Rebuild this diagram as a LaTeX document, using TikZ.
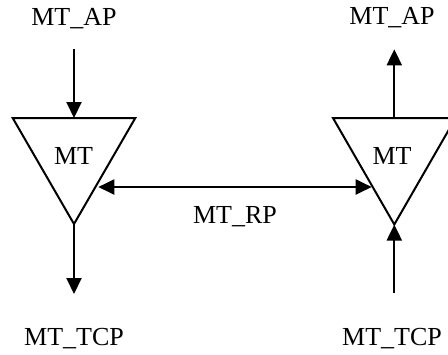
\documentclass[tikz,border=0pt]{standalone}
\usepackage{fontspec}
\setmainfont{Liberation Serif}
\usetikzlibrary{arrows.meta}
\begin{document}
\begin{tikzpicture}[x=0.5pt,y=-0.5pt,
  lbl/.style={anchor=base,inner sep=0pt,font=\fontsize{13}{15}\selectfont},
  tri/.style={line width=1pt,line join=miter},
  conn/.style={line width=1pt,-{Triangle[length=8pt,width=7.5pt]}},
  dconn/.style={line width=1pt,{Triangle[length=8pt,width=7.5pt]}-{Triangle[length=8pt,width=7.5pt]}}]
\useasboundingbox (0,0) rectangle (448,354);
\begin{scope}
\clip (0,0) rectangle (448,354);
% left triangle
\coordinate (LTL) at (12.7,118);
\coordinate (LTR) at (135.3,118);
\coordinate (LA) at (74,224);
\coordinate (LT) at (74,118);
\draw[tri] (LTL) -- (LTR) -- (LA) -- cycle;
% right triangle
\coordinate (RTL) at (333,118);
\coordinate (RTR) at (455.6,118);
\coordinate (RA) at (394.3,224.5);
\coordinate (RT) at (394.3,118);
\draw[tri] (RTL) -- (RTR) -- (RA) -- cycle;
\end{scope}
% labels
\node[lbl] (lap) at (74,25) {MT\_AP};
\node[lbl] (rap) at (392,24) {MT\_AP};
\node[lbl] (lmt) at (73.5,164) {MT};
\node[lbl] (rmt) at (392,164) {MT};
\node[lbl] (rp) at (235,223.3) {MT\_RP};
\node[lbl] (ltcp) at (74,345.3) {MT\_TCP};
\node[lbl] (rtcp) at (392,345.3) {MT\_TCP};
% free ends
\coordinate (LAin) at (74,49.3);
\coordinate (LTout) at (74,294);
\coordinate (RAout) at (394.3,49.3);
\coordinate (RTin) at (394.3,293);
\coordinate (RPl) at (98.3,187);
\coordinate (RPr) at (371.7,187);
% connectors
\draw[conn] (LAin) -- (LT);
\draw[conn] (LA) -- (LTout);
\draw[conn] (RT) -- (RAout);
\draw[conn] (RTin) -- (RA);
\draw[dconn] (RPl) -- (RPr);
\end{tikzpicture}
\end{document}
